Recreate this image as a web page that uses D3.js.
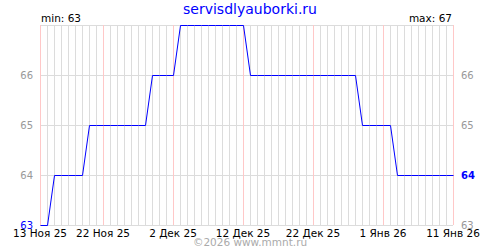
<!DOCTYPE html>
<html><head><meta charset="utf-8">
<script src="https://cdn.jsdelivr.net/npm/d3@7"></script>
<style>body{margin:0;background:#fff}svg{display:block}text{font-family:"DejaVu Sans",Verdana,sans-serif}</style>
</head><body><svg id="c" width="500" height="250"></svg>
<script>
const title = "servisdlyauborki.ru";
const startDate = "2025-11-13";
const values = [63,63,64,64,64,64,64,65,65,65,65,65,65,65,65,65,66,66,66,66,
  67,67,67,67,67,67,67,67,67,67,66,66,66,66,66,66,66,66,66,66,66,66,66,66,66,66,
  65,65,65,65,65,64,64,64,64,64,64,64,64,64];
const yTicks = [63,64,65,66,67];
const xTickDates = ["2025-11-13","2025-11-22","2025-12-02","2025-12-12","2025-12-22","2026-01-01","2026-01-11"];
const months = ["Янв","Фев","Мар","Апр","Май","Июн","Июл","Авг","Сен","Окт","Ноя","Дек"];
const footer = "©2026 www.mmnt.ru";

const parse = d3.utcParse("%Y-%m-%d");
const t0 = parse(startDate);
const data = values.map((v,i)=>({date:d3.utcDay.offset(t0,i), v}));
const svg = d3.select("#c");
const L=40,R=453,T=25,B=225;
const x = d3.scaleUtc().domain([data[0].date, data[data.length-1].date]).range([L,R]);
const y = d3.scaleLinear().domain([63,67]).range([B,T]);
const fmt = d => `${d.getUTCDate()} ${months[d.getUTCMonth()]} ${String(d.getUTCFullYear()).slice(2)}`;
const xt = xTickDates.map(parse);
const xtSet = new Set(xt.map(d=>+d));

const g = svg.append("g").attr("shape-rendering","crispEdges");
g.selectAll(".vg").data(data.filter(d=>!xtSet.has(+d.date))).join("line")
  .attr("x1",d=>Math.round(x(d.date))+0.5).attr("x2",d=>Math.round(x(d.date))+0.5)
  .attr("y1",T).attr("y2",B).attr("stroke","#dcdcdc");
g.selectAll(".hg").data(yTicks).join("line")
  .attr("x1",L).attr("x2",R).attr("y1",d=>Math.round(y(d))+0.5).attr("y2",d=>Math.round(y(d))+0.5)
  .attr("stroke","#dcdcdc");
g.selectAll(".rg").data(xt).join("line")
  .attr("x1",d=>Math.round(x(d))+0.5).attr("x2",d=>Math.round(x(d))+0.5)
  .attr("y1",T).attr("y2",B).attr("stroke","#ffc8c8");

svg.append("path").datum(data).attr("fill","none").attr("stroke","#0000ff").attr("stroke-width",1)
  .attr("d", d3.line().x(d=>Math.round(x(d.date))+0.5).y(d=>Math.round(y(d.v))+0.5));

const first = values[0], last = values[values.length-1];
svg.selectAll(".yl").data(yTicks.slice(0,4)).join("text")
  .attr("x",33).attr("y",d=>y(d)+3.5).attr("text-anchor","end").attr("font-size",10)
  .attr("fill",d=>d===first?"#0000ff":"#999").text(d=>d);
svg.selectAll(".yr").data(yTicks.slice(0,4)).join("text")
  .attr("x",461).attr("y",d=>y(d)+3.5).attr("text-anchor","start").attr("font-size",10)
  .attr("fill",d=>d===last?"#0000ff":"#999").attr("font-weight",d=>d===last?"bold":"normal").text(d=>d);

svg.selectAll(".xl").data(xt).join("text")
  .attr("x",d=>x(d)).attr("y",236.5).attr("text-anchor","middle").attr("font-size",10.5)
  .attr("fill","#000").text(fmt);

svg.append("text").attr("x",250).attr("y",13.5).attr("text-anchor","middle").attr("font-size",14)
  .attr("fill","#0000ff").text(title);
svg.append("text").attr("x",41).attr("y",22).attr("font-size",10.5).attr("fill","#000").text("min: "+d3.min(values));
svg.append("text").attr("x",452).attr("y",22).attr("text-anchor","end").attr("font-size",10.5).attr("fill","#000").text("max: "+d3.max(values));
svg.append("text").attr("x",250).attr("y",246).attr("text-anchor","middle").attr("font-size",10.5)
  .attr("fill","#aaa").text(footer);
</script></body></html>
